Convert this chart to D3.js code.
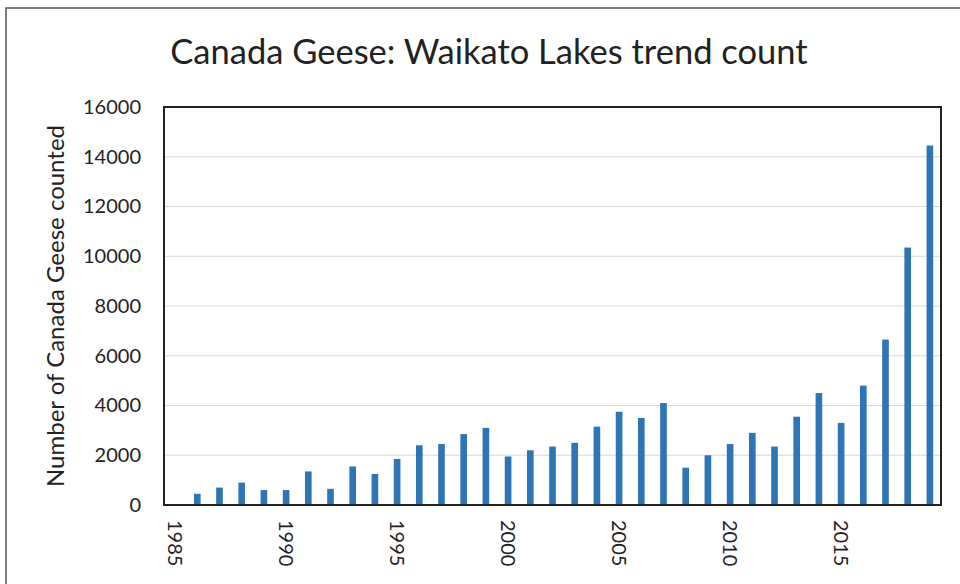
<!DOCTYPE html>
<html>
<head>
<meta charset="utf-8">
<script src="https://d3js.org/d3.v7.min.js"></script>
<style>
  body { margin: 0; background: #fff; }
  text { font-family: Lato, "Open Sans", sans-serif; fill: #222; }
</style>
</head>
<body>
<svg width="960" height="584"></svg>
<script>
// data
var years = d3.range(1985, 2020);
var counts = [0, 450, 700, 900, 600, 600, 1350, 650, 1550, 1250, 1850,
              2400, 2450, 2850, 3100, 1950, 2200, 2350, 2500, 3150, 3750,
              3500, 4100, 1500, 2000, 2450, 2900, 2350, 3550, 4500, 3300,
              4800, 6650, 10350, 14450];
var yTicks = [0, 2000, 4000, 6000, 8000, 10000, 12000, 14000, 16000];
var xTickLabels = [1985, 1990, 1995, 2000, 2005, 2010, 2015];

var svg = d3.select("svg");
var pLeft = 164, pRight = 941, pTop = 107, pBottom = 505;

// outer frame
svg.append("path")
   .attr("d", "M6,584 L6,8 L960,8")
   .attr("fill", "none")
   .attr("stroke", "#555")
   .attr("stroke-width", 1.5);

svg.append("text")
   .attr("x", 489).attr("y", 64)
   .attr("text-anchor", "middle")
   .style("font-size", "34.5px")
   .text("Canada Geese: Waikato Lakes trend count");

var x = d3.scaleBand().domain(years).range([pLeft, pRight]).paddingInner(0.7).paddingOuter(0.35);
var y = d3.scaleLinear().domain([0, 16000]).range([pBottom, pTop]);

// gridlines
svg.append("g").selectAll("line")
   .data(yTicks.slice(1))
   .enter().append("line")
   .attr("x1", pLeft).attr("x2", pRight)
   .attr("y1", function(d) { return y(d); })
   .attr("y2", function(d) { return y(d); })
   .attr("stroke", "#d9d9d9")
   .attr("stroke-width", 1.2);

var data = years.map(function(yr, i) { return { year: yr, value: counts[i] }; });

svg.append("g").selectAll("rect")
   .data(data.filter(function(d) { return d.value > 0; }))
   .enter().append("rect")
   .attr("x", function(d) { return x(d.year); })
   .attr("y", function(d) { return y(d.value); })
   .attr("width", x.bandwidth())
   .attr("height", function(d) { return y(0) - y(d.value); })
   .attr("fill", "#2E75B6");

// plot box
svg.append("rect")
   .attr("x", pLeft).attr("y", pTop)
   .attr("width", pRight - pLeft).attr("height", pBottom - pTop)
   .attr("fill", "none")
   .attr("stroke", "#222")
   .attr("stroke-width", 2);

// y axis
var yAxis = svg.append("g")
   .attr("transform", "translate(" + pLeft + ",0)")
   .call(d3.axisLeft(y).tickValues(yTicks).tickSize(0).tickPadding(23).tickFormat(d3.format("d")));
yAxis.select(".domain").remove();
yAxis.selectAll("text").style("font-size", "20px").style("font-family", "Lato, sans-serif").attr("fill", "#222");

// x axis labels, rotated
var xAxis = svg.append("g")
   .attr("transform", "translate(0," + pBottom + ")")
   .call(d3.axisBottom(x).tickValues(xTickLabels).tickSize(0).tickFormat(d3.format("d")));
xAxis.select(".domain").remove();
xAxis.selectAll("text")
   .style("font-size", "20px")
   .style("font-family", "Lato, sans-serif")
   .attr("fill", "#222")
   .attr("transform", "rotate(90)")
   .attr("x", 15).attr("y", 0).attr("dy", "0.35em")
   .attr("text-anchor", "start");

svg.append("text")
   .attr("transform", "translate(64,306) rotate(-90)")
   .attr("text-anchor", "middle")
   .style("font-size", "24px")
   .text("Number of Canada Geese counted");
</script>
</body>
</html>
